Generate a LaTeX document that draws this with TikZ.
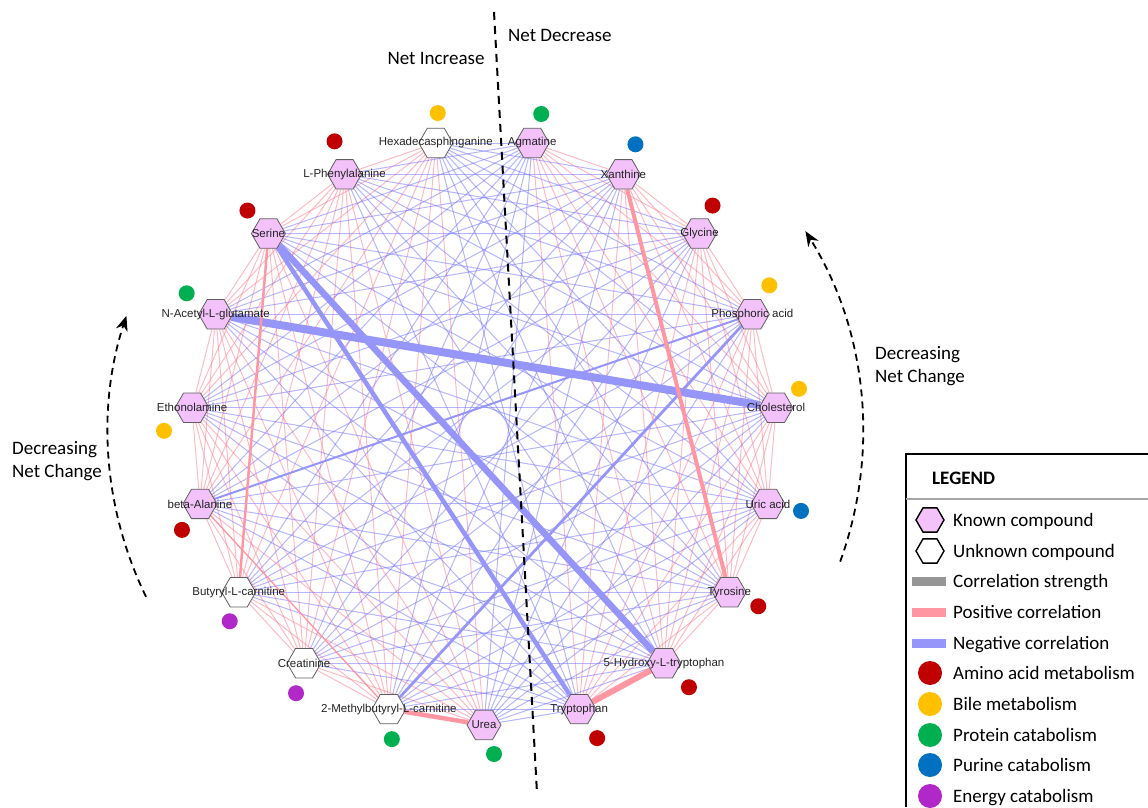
\documentclass[tikz,border=0pt]{standalone}
\usepackage{fontspec}
\setmainfont{Carlito}
\newfontfamily\arialfont{Liberation Sans}
\usetikzlibrary{shapes.geometric,arrows.meta,backgrounds}

\definecolor{knownfill}{RGB}{243,194,250}
\definecolor{hexline}{RGB}{95,95,95}
\definecolor{tagtext}{RGB}{35,35,35}
\definecolor{posline}{RGB}{255,120,140}
\definecolor{negline}{RGB}{110,110,255}
\definecolor{posthick}{RGB}{255,150,162}
\definecolor{negthick}{RGB}{150,150,250}
\definecolor{strength}{RGB}{150,150,150}
\definecolor{amino}{RGB}{192,0,0}
\definecolor{bile}{RGB}{255,192,0}
\definecolor{protein}{RGB}{0,176,80}
\definecolor{purine}{RGB}{0,112,192}
\definecolor{energy}{RGB}{176,40,200}

\begin{document}
\begin{tikzpicture}[x=1pt,y=1pt,
    known/.style={regular polygon,regular polygon sides=6,minimum size=34pt,inner sep=0pt,draw=hexline,line width=0.8pt,fill=knownfill},
    unknown/.style={known,fill=white},
    tag/.style={font=\arialfont\fontsize{11.5}{13}\selectfont,text=tagtext,inner sep=0pt},
    dot/.style={circle,minimum size=16pt,inner sep=0pt},
    pos edge/.style={draw=posline,draw opacity=0.5,line width=1pt},
    neg edge/.style={draw=negline,draw opacity=0.5,line width=1pt},
    big/.style={font=\fontsize{19}{23}\selectfont,inner sep=0pt},
    turn/.style={line width=1.8pt,dash pattern=on 7pt off 5pt,-{Stealth[length=15pt,width=12pt]}},
    legtext/.style={big,anchor=base west}]
  \useasboundingbox (0,0) rectangle (1148,807);

  \begin{scope}[shift={(484,375)}]
    \foreach \nm/\i/\txt/\kind/\cat/\dx/\dy in {
        urea/0/Urea/known/protein/10/-29,
        trp/1/Tryptophan/known/amino/18/-29,
        htp/2/5-Hydroxy-L-tryptophan/known/amino/25/-24,
        tyr/3/Tyrosine/known/amino/29/-14,
        uric/4/Uric acid/known/purine/33/-7,
        chol/5/Cholesterol/known/bile/23/19,
        phos/6/Phosphoric acid/known/bile/17/29,
        gly/7/Glycine/known/amino/13/28,
        xan/8/Xanthine/known/purine/12/30,
        agm/9/Agmatine/known/protein/9/29,
        hexa/10/Hexadecasphinganine/unknown/bile/2/30,
        phe/11/L-Phenylalanine/known/amino/-10/33,
        ser/12/Serine/known/amino/-21/23,
        nag/13/N-Acetyl-L-glutamate/known/protein/-29/21,
        etha/14/Ethonolamine/known/bile/-28/-23,
        bala/15/beta-Alanine/known/amino/-18/-26,
        but/16/Butyryl-L-carnitine/unknown/energy/-9/-29,
        crea/17/Creatinine/unknown/energy/-8/-30,
        mbc/18/2-Methylbutyryl-L-carnitine/unknown/protein/3/-30}
    {
      \node[\kind] (\nm) at ({-90+360/19*\i}:293) {};
      \node[tag] (\nm-t) at (\nm) {\txt};
      \node[dot,fill=\cat] (\nm-d) at ([shift={(\dx,\dy)}]\nm) {};
    }

    \draw[turn] (206:376) arc[start angle=206,end angle=162,radius=376];
    \draw[turn] (-20:379) arc[start angle=-20,end angle=32,radius=379];
  \end{scope}

  \def\incset{urea,hexa,phe,ser,nag,etha,bala,but,crea,mbc}
  \def\decset{trp,htp,tyr,uric,chol,phos,gly,xan,agm}
  \begin{scope}[on background layer]
    \foreach \a [count=\i] in \incset
      \foreach \b [count=\j] in \incset
        {\ifnum\j>\i \draw[pos edge] (\a) -- (\b); \fi}
    \foreach \a [count=\i] in \decset
      \foreach \b [count=\j] in \decset
        {\ifnum\j>\i \draw[pos edge] (\a) -- (\b); \fi}
    \foreach \a in \incset
      \foreach \b in \decset
        \draw[neg edge] (\a) -- (\b);
    \draw[negthick,line width=8pt] (nag) -- (chol);
    \draw[negthick,line width=6.5pt] (ser) -- (htp);
    \draw[negthick,line width=4.5pt] (ser) -- (trp);
    \draw[negthick,line width=2.8pt] (phos) -- (mbc);
    \draw[negthick,line width=2pt] (bala) -- (phos);
    \draw[posthick,line width=6pt] (trp) -- (htp);
    \draw[posthick,line width=4.5pt] (mbc) -- (urea);
    \draw[posthick,line width=4pt] (xan) -- (tyr);
    \draw[posthick,line width=2.5pt] (ser) -- (but);
    \draw[posthick,line width=1.2pt] (bala) -- (mbc);
  \end{scope}

  \draw[line width=2pt,dash pattern=on 8pt off 6pt] (494,795) -- (537,14);
  \node[big] (inc) at (436,749) {Net Increase};
  \node[big,anchor=west] (dec) at (508,772) {Net Decrease};
  \node[big,anchor=west,align=left] (left-turn) at (12,346) {Decreasing\\Net Change};
  \node[big,anchor=west,align=left] (right-turn) at (875,441) {Decreasing\\Net Change};

  \draw[line width=2pt] (1148,353) -- (906,353) -- (906,0);
  \draw[gray!70,line width=1.2pt] (906,308) -- (1148,308);
  \node[big,anchor=west,font=\fontsize{19}{23}\selectfont\bfseries] (legend) at (932,329) {LEGEND};
  \node[known,minimum size=28pt,draw=black,line width=1.4pt] (leg-known) at (930,287) {};
  \node[unknown,minimum size=28pt,draw=black,line width=1.4pt] (leg-unknown) at (930,256) {};
  \node[fill=strength,minimum width=34pt,minimum height=9pt,inner sep=0pt] (leg-strength) at (929,226) {};
  \node[fill=posthick,minimum width=34pt,minimum height=9pt,inner sep=0pt] (leg-pos) at (929,195) {};
  \node[fill=negthick,minimum width=34pt,minimum height=9pt,inner sep=0pt] (leg-neg) at (929,164) {};
  \foreach \cat/\y in {amino/134,bile/103,protein/72,purine/42,energy/11}
    \node[dot,fill=\cat,minimum size=24pt] (leg-\cat) at (930,\y) {};
  \foreach \y/\txt [count=\k] in {287/Known compound,256/Unknown compound,226/Correlation strength,
      195/Positive correlation,164/Negative correlation,134/Amino acid metabolism,103/Bile metabolism,
      72/Protein catabolism,42/Purine catabolism,11/Energy catabolism}
    \node[legtext] (leg-text\k) at (953,\y-6) {\txt};
\end{tikzpicture}
\end{document}
